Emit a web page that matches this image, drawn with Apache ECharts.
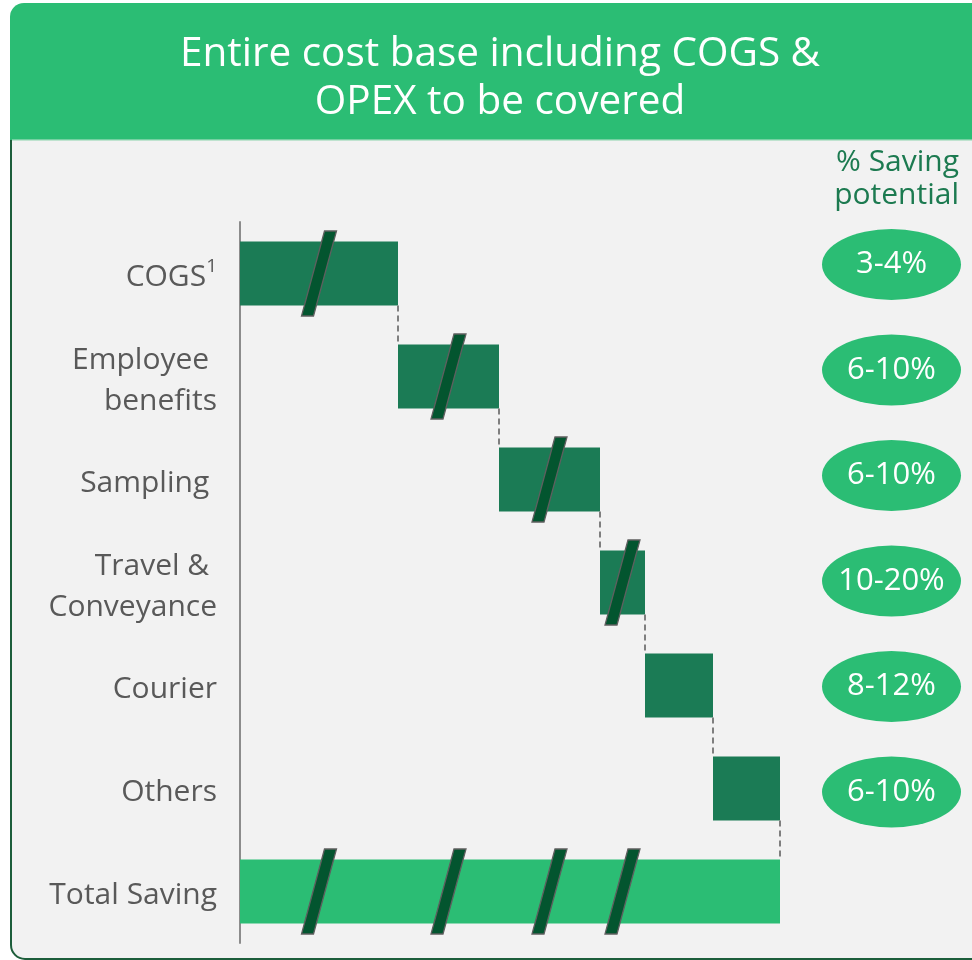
<!DOCTYPE html>
<html>
<head>
<meta charset="utf-8">
<script src="https://cdn.jsdelivr.net/npm/echarts@6/dist/echarts.min.js"></script>
<style>
  html, body { margin: 0; padding: 0; background: #ffffff; }
  #chart { width: 972px; height: 960px; }
</style>
</head>
<body>
<div id="chart"></div>
<script>
// ---- Data ----
const categories = ['COGS', 'Employee \nbenefits', 'Sampling ', 'Travel & \nConveyance', 'Courier', 'Others', 'Total Saving'];
const costValues = [158, 101, 101, 45, 68, 67];   // relative widths of cost bars
const totalValue = 540;                            // Total Saving bar
const savingLabels = ['3-4%', '6-10%', '6-10%', '10-20%', '8-12%', '6-10%'];
const brokenBars = [true, true, true, true, false, false]; // bars drawn with a break mark
const titleLines = ['Entire cost base including COGS &', 'OPEX to be covered'];
const savingHeader = ['% Saving', 'potential'];

// ---- Derived tables ----
const baseData = [];
const valueData = [];
let run = 0;
costValues.forEach(function (v) { baseData.push(run); valueData.push(v); run += v; });
baseData.push(0);
valueData.push(totalValue);

const barColors = costValues.map(function () { return '#1b7b55'; }).concat(['#2bbd74']);

const breakData = [];
costValues.forEach(function (v, i) {
  if (brokenBars[i]) {
    const mid = baseData[i] + v / 2;
    breakData.push([mid, i]);
    breakData.push([mid, categories.length - 1]);
  }
});

const connectorData = [];
for (let i = 0; i < costValues.length; i++) {
  connectorData.push([baseData[i] + costValues[i], i, i + 1]);
}

const ellipseData = savingLabels.map(function (s, i) { return [0.5, i]; });

const BAR_H = 64;
const FONT = '"Open Sans", sans-serif';

const chart = echarts.init(document.getElementById('chart'), null, { renderer: 'canvas' });

const option = {
  backgroundColor: '#ffffff',
  animation: false,
  graphic: [
    { type: 'rect', z: -20, shape: { x: 11, y: 120, width: 1000, height: 839, r: 14 },
      style: { fill: '#f2f2f2', stroke: '#1d5e3b', lineWidth: 2 } },
    { type: 'rect', z: -10, shape: { x: 10, y: 3, width: 1000, height: 137, r: [14, 0, 0, 0] },
      style: { fill: '#2bbd74' } },
    { type: 'rect', z: -9, shape: { x: 12, y: 139.5, width: 1000, height: 1.5 },
      style: { fill: '#bfe3cf' } },
    { type: 'text', z: 5, x: 500, y: 78,
      style: { text: titleLines.join('\n'), fill: '#ffffff', font: '40.5px ' + FONT,
               align: 'center', verticalAlign: 'middle', lineHeight: 48 } },
    { type: 'text', z: 5, x: 959, y: 179,
      style: { text: savingHeader.join('\n'), fill: '#1c7a50', font: '30px ' + FONT,
               align: 'right', verticalAlign: 'middle', lineHeight: 33 } }
  ],
  grid: [
    { left: 240, top: 222, width: 560, height: 721, containLabel: false },
    { left: 822, top: 211.75, width: 139, height: 738.5, containLabel: false }
  ],
  xAxis: [
    { gridIndex: 0, type: 'value', min: 0, max: 560, show: false },
    { gridIndex: 1, type: 'value', min: 0, max: 1, show: false }
  ],
  yAxis: [
    {
      gridIndex: 0, type: 'category', data: categories, inverse: true,
      axisLine: { show: true, lineStyle: { color: '#8c8c8c', width: 2 } },
      axisTick: { show: false },
      splitLine: { show: false },
      axisLabel: {
        margin: 23, color: '#595959', fontSize: 30, fontFamily: FONT,
        lineHeight: 41, align: 'right', padding: [8, 0, 0, 0],
        formatter: function (v, i) { return i === 0 ? '{t|' + v + '}{sup|1}' : v; },
        rich: {
          t: { fontSize: 30, color: '#595959', fontFamily: FONT, lineHeight: 41 },
          sup: { fontSize: 19, color: '#595959', fontFamily: FONT, verticalAlign: 'top', lineHeight: 30, padding: [0, 0, 6, 0] }
        }
      }
    },
    { gridIndex: 1, type: 'category', data: categories, inverse: true, show: false }
  ],
  series: [
    {
      type: 'bar', stack: 'w', xAxisIndex: 0, yAxisIndex: 0, barWidth: BAR_H,
      itemStyle: { color: 'transparent' }, emphasis: { disabled: true }, silent: true,
      data: baseData, z: 2
    },
    {
      type: 'bar', stack: 'w', xAxisIndex: 0, yAxisIndex: 0, barWidth: BAR_H,
      data: valueData.map(function (v, i) { return { value: v, itemStyle: { color: barColors[i] } }; }),
      z: 2
    },
    {
      type: 'custom', xAxisIndex: 0, yAxisIndex: 0, z: 3, silent: true,
      encode: { x: 0, y: 1 },
      data: connectorData,
      renderItem: function (params, api) {
        const p1 = api.coord([api.value(0), api.value(1)]);
        const p2 = api.coord([api.value(0), api.value(2)]);
        return {
          type: 'line',
          shape: { x1: p1[0], y1: p1[1] + BAR_H / 2, x2: p2[0], y2: p2[1] - BAR_H / 2 },
          style: { stroke: '#7f7f7f', lineWidth: 2, lineDash: [6, 4] }
        };
      }
    },
    {
      type: 'custom', xAxisIndex: 0, yAxisIndex: 0, z: 4, silent: true,
      encode: { x: 0, y: 1 },
      data: breakData,
      renderItem: function (params, api) {
        const c = api.coord([api.value(0), api.value(1)]);
        const h = BAR_H / 2 + 10.5;
        const cx = c[0], cy = c[1];
        return {
          type: 'polygon',
          shape: { points: [[cx - 17.5, cy + h], [cx - 5.5, cy + h], [cx + 17.5, cy - h], [cx + 5.5, cy - h]] },
          style: { fill: '#03552f', stroke: '#5f5f5f', lineWidth: 1.3 }
        };
      }
    },
    {
      type: 'scatter', xAxisIndex: 1, yAxisIndex: 1, z: 3, silent: true,
      symbol: 'circle', symbolSize: [139, 71],
      itemStyle: { color: '#2bbd74', opacity: 1 },
      data: ellipseData,
      label: {
        show: true, position: 'inside', color: '#ffffff', fontSize: 31,
        fontFamily: FONT,
        formatter: function (p) { return savingLabels[p.dataIndex]; }
      }
    }
  ]
};

chart.setOption(option);
</script>
</body>
</html>
